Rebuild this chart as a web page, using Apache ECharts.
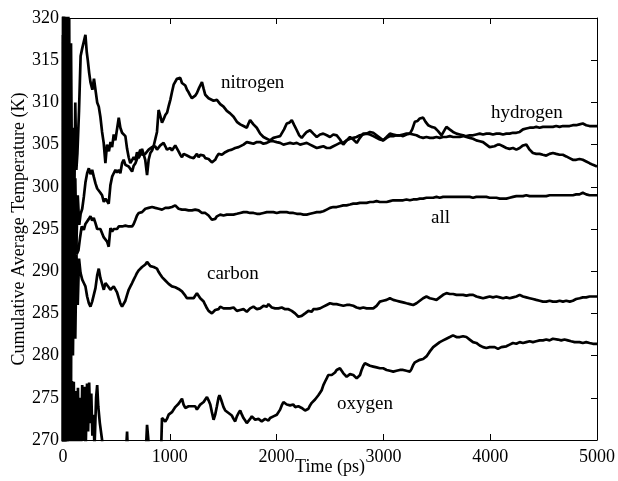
<!DOCTYPE html>
<html>
<head>
<meta charset="utf-8">
<script src="https://cdn.jsdelivr.net/npm/echarts@6/dist/echarts.min.js"></script>
<style>
html, body { margin: 0; padding: 0; background: #fff; }
#main { width: 618px; height: 481px; }
</style>
</head>
<body>
<div id="main"></div>
<script>
// [time (ps), cumulative average temperature (K)]
var nitrogen = [[0,335],[2,262],[4,333],[6,262],[8,331],[11,264],[13,330],[16,266],[18,328],[21,268],[24,326],[27,272],[30,326],[33,276],[36,324],[40,280],[43,323],[47,286],[50,321],[54,290],[58,320],[66,294],[75,317],[85,299],[95,307],[105,297],[115,310],[125,302],[135,304],[150,309],[165,315.5],[180,316.4],[195,317.2],[210,318],[222,316],[232,315],[245,313.5],[257,312.4],[275,311.5],[290,312.8],[304,312.7],[320,310],[335,309.5],[350,308.3],[366,306.5],[381,305.2],[397,302.8],[412,305],[430,304.2],[445,305.3],[460,304.7],[475,306.2],[490,305.5],[508,307],[522,308.2],[537,307],[553,306.4],[570,306.2],[584,306],[600,304.5],[615,303.5],[630,302.8],[647,302.6],[662,303.5],[678,303.2],[693,304.1],[708,303.4],[724,303.8],[740,304.5],[755,304.7],[770,303.2],[787,301.4],[802,303.2],[818,304],[834,304.3],[850,304.9],[864,304.7],[880,306.5],[895,309.1],[911,308.4],[927,307.6],[942,308],[958,308.5],[975,308.8],[990,309.6],[1005,310.3],[1020,311.2],[1036,312.1],[1051,312.3],[1067,312.8],[1082,312.7],[1098,312.9],[1114,312.3],[1129,312.4],[1145,312],[1161,311.5],[1176,311.2],[1192,310.8],[1207,310.5],[1223,310.3],[1238,310.8],[1254,311.1],[1270,311.6],[1285,312],[1301,312.4],[1317,311.6],[1332,310.9],[1348,310.8],[1363,310.5],[1379,310.6],[1410,310.2],[1441,310.3],[1472,309.8],[1503,309.5],[1534,309],[1565,308.7],[1597,308.3],[1628,307.7],[1659,307.4],[1690,307.2],[1721,307],[1737,307.5],[1752,307.9],[1783,307.4],[1814,307],[1846,306.3],[1877,305.9],[1908,305.7],[1939,305.5],[1970,305.8],[2000,305.9],[2033,306],[2048,306.1],[2070,306.8],[2095,307.5],[2120,307.6],[2142,307.9],[2165,307.3],[2189,306.7],[2212,306.1],[2235,305.8],[2260,306.2],[2282,306.5],[2313,306.7],[2344,306.3],[2376,305.9],[2407,306.2],[2437,306.3],[2470,306.1],[2500,305.9],[2531,306.2],[2563,306.1],[2594,305.6],[2624,305],[2656,305.5],[2687,305.9],[2718,305.6],[2750,305.2],[2780,305.8],[2811,306.3],[2843,306.3],[2874,306.5],[2905,306.4],[2936,306.1],[2967,305.8],[2998,305.5],[3030,305.9],[3061,306.3],[3092,306.2],[3123,306.1],[3154,306.1],[3185,306],[3216,306.2],[3248,306.3],[3270,306.8],[3294,307.7],[3320,307.8],[3341,308.1],[3372,308.2],[3395,307.7],[3419,307.3],[3450,307.1],[3481,307],[3512,306.6],[3544,306.1],[3567,306.6],[3590,307.1],[3620,306.8],[3652,306.5],[3684,306.3],[3715,306.2],[3746,306.1],[3777,305.9],[3808,305.8],[3839,305.7],[3870,305.5],[3902,305.4],[3933,305.3],[3964,305],[3995,304.7],[4011,304.7],[4040,304.8],[4070,305],[4089,305],[4120,304.8],[4151,304.6],[4182,304.5],[4213,304.6],[4245,304.4],[4276,304.6],[4307,304.9],[4338,305],[4369,304.4],[4400,304],[4431,303.9],[4463,303.9],[4493,303.8],[4525,303.7],[4556,303.9],[4587,304],[4618,303.9],[4650,303.8],[4680,303.8],[4712,303.6],[4743,303.4],[4773,303.2],[4805,303.2],[4836,303.3],[4867,303.2],[4899,303],[4930,302.8],[4962,302.6],[5000,302.4]];

var hydrogen = [[0,248],[3,325],[7,255],[11,323],[16,262],[21,320],[27,268],[33,318],[40,275],[47,314],[55,280],[63,310],[72,284],[80,306],[88,289],[97,303],[105,292],[115,301],[125,293],[138,299],[152,295.5],[165,296.8],[180,297.4],[195,298.8],[210,300.5],[226,301.6],[242,302.2],[257,301.5],[273,302],[288,301.2],[304,300.4],[320,299.8],[335,299.6],[350,299.3],[366,299],[382,298.2],[398,298.6],[413,298.4],[428,298],[444,300.2],[460,301.2],[475,301.6],[491,302],[506,301.7],[522,302],[537,301.6],[553,302.8],[568,303.2],[584,302.6],[600,302.4],[615,302.4],[631,302.1],[647,301.8],[662,302.5],[678,302.8],[693,303.3],[708,303.8],[724,304.4],[740,303.8],[755,303.6],[770,303.9],[787,304.1],[802,304.4],[818,304.5],[834,304.7],[850,304.5],[864,304.8],[880,304.4],[895,304.6],[911,304.9],[927,305.1],[942,305.2],[958,304.8],[973,304.4],[990,304.6],[1005,304.6],[1020,304.3],[1036,304.5],[1051,304.9],[1067,304.7],[1082,304.2],[1098,303.8],[1114,303.5],[1130,303.9],[1145,304],[1161,303.7],[1176,303.8],[1192,303.5],[1207,303.7],[1223,303.4],[1238,303.6],[1254,303.9],[1270,303.5],[1286,303.8],[1301,303.6],[1317,303.7],[1332,303.4],[1348,303.5],[1363,303.3],[1379,303.1],[1394,302.9],[1410,302.8],[1425,303.2],[1441,303.6],[1456,303.9],[1472,304],[1488,303.8],[1503,303.9],[1519,304.1],[1535,304],[1550,304.3],[1566,304.1],[1581,304.4],[1597,304.4],[1612,304.6],[1628,304.5],[1644,304.7],[1659,304.6],[1690,305],[1721,305.3],[1752,305.2],[1783,305.1],[1815,305.3],[1846,305.3],[1877,305.1],[1908,305.2],[1939,305.4],[1970,305.4],[2001,305.3],[2033,305.2],[2064,305],[2095,305.1],[2126,305.2],[2157,305.1],[2189,305.2],[2220,305],[2251,305.1],[2282,305.2],[2313,305],[2344,304.8],[2376,304.6],[2407,304.7],[2438,304.8],[2469,304.6],[2500,304.6],[2531,304.8],[2562,305],[2593,305.2],[2624,305.2],[2656,305.5],[2687,305.7],[2718,305.8],[2749,305.9],[2780,306.1],[2811,306.2],[2843,306.3],[2874,306.2],[2905,306],[2936,305.8],[2967,305.6],[2998,305.5],[3030,305.8],[3061,306],[3092,306],[3123,306.1],[3154,306.1],[3185,306.2],[3216,306.3],[3248,306.3],[3279,306.2],[3310,306.1],[3341,305.9],[3372,305.8],[3403,305.9],[3435,305.8],[3466,305.8],[3497,305.9],[3528,305.8],[3559,305.9],[3590,305.9],[3622,306],[3653,305.9],[3684,305.9],[3715,305.9],[3746,306],[3777,306],[3808,306.1],[3839,306.1],[3870,306.2],[3902,306.3],[3933,306.2],[3964,306.3],[3995,306.3],[4026,306.2],[4058,306.3],[4089,306.3],[4120,306.2],[4151,306.3],[4182,306.3],[4213,306.4],[4245,306.4],[4276,306.5],[4307,306.8],[4338,306.9],[4369,307],[4400,307],[4431,307.1],[4463,307],[4494,307.1],[4525,307.1],[4556,307.1],[4587,307.1],[4618,307.2],[4650,307.1],[4681,307.2],[4712,307.2],[4743,307.2],[4774,307.3],[4805,307.3],[4836,307.4],[4867,307.5],[4899,307.3],[4930,307.2],[4962,307.2],[5000,307.2]];

var all = [[0,318],[2,265],[4,317],[7,266],[9,316],[12,268],[14,315],[17,270],[20,312],[23,272],[26,311],[29,274],[32,309],[36,276],[39,307],[43,278],[46,305],[50,280],[54,303],[58,282],[62,302],[70,285],[78,300],[87,288],[96,298],[105,290],[115,297],[128,292],[145,292.5],[160,294],[175,295.3],[195,294.9],[210,295.6],[226,295.8],[242,296.2],[257,296.5],[273,296],[288,296.3],[304,295.7],[320,295],[335,295.2],[350,295],[366,294.5],[382,294],[398,293.8],[413,293.5],[428,292.9],[444,295.1],[460,294.7],[475,295],[491,295.1],[506,295],[522,295.3],[537,295.1],[553,295.3],[568,295.2],[584,295.4],[600,295.2],[615,295.3],[631,295.4],[647,295.3],[662,295.6],[678,296.1],[693,296.6],[709,296.9],[724,297],[740,297],[755,297.2],[771,297.4],[787,297.3],[802,297.5],[818,297.4],[834,297.6],[849,297.4],[864,297.5],[880,297.3],[896,297.4],[911,297.2],[927,297.3],[942,297.5],[958,297.5],[973,297.6],[989,297.5],[1005,297.7],[1020,297.6],[1036,297.8],[1051,297.8],[1067,297.6],[1082,297.4],[1098,297.5],[1114,297.3],[1129,297.5],[1145,297.3],[1161,297.4],[1176,297.2],[1192,297.3],[1207,297.2],[1223,297.4],[1238,297.3],[1254,297.1],[1270,297.2],[1285,297],[1301,296.9],[1317,297],[1332,296.9],[1348,296.7],[1363,296.6],[1379,296.4],[1394,296.1],[1410,295.9],[1425,296.2],[1441,296.5],[1456,296.6],[1472,296.7],[1503,296.6],[1534,296.7],[1565,296.7],[1596,296.7],[1628,296.8],[1659,296.9],[1690,297],[1721,297],[1752,296.9],[1784,296.9],[1815,296.8],[1846,296.8],[1877,296.9],[1908,297],[1939,297],[1970,297],[2001,296.9],[2033,297],[2064,297],[2095,297],[2126,296.9],[2157,296.9],[2189,296.8],[2220,296.8],[2251,296.7],[2282,296.7],[2313,296.8],[2344,296.9],[2376,297],[2407,297],[2438,297.1],[2469,297.3],[2500,297.5],[2531,297.6],[2562,297.6],[2593,297.7],[2624,297.8],[2655,297.8],[2687,297.9],[2718,298],[2749,298],[2780,298.1],[2811,298.1],[2843,298.1],[2874,298.2],[2905,298.2],[2936,298.3],[2967,298.2],[2998,298.2],[3030,298.2],[3061,298.3],[3092,298.4],[3123,298.4],[3154,298.4],[3185,298.4],[3216,298.5],[3248,298.4],[3279,298.5],[3310,298.5],[3341,298.6],[3372,298.6],[3403,298.7],[3435,298.7],[3466,298.7],[3497,298.8],[3528,298.7],[3559,298.8],[3590,298.8],[3622,298.8],[3653,298.8],[3684,298.8],[3715,298.8],[3746,298.8],[3777,298.8],[3808,298.8],[3839,298.7],[3870,298.8],[3902,298.8],[3933,298.8],[3964,298.8],[3995,298.7],[4026,298.7],[4058,298.7],[4089,298.6],[4120,298.6],[4151,298.6],[4182,298.7],[4213,298.8],[4245,298.9],[4276,298.9],[4307,298.9],[4338,299],[4369,298.9],[4400,298.9],[4431,298.9],[4463,298.9],[4494,298.9],[4525,298.9],[4556,299],[4587,299],[4618,299],[4650,299],[4681,299],[4712,299],[4743,299],[4774,299],[4805,299.1],[4836,299.1],[4867,299.3],[4899,299.1],[4930,299],[4962,299],[5000,299]];

var carbon = [[0,252],[3,318],[7,256],[12,314],[17,260],[23,310],[29,264],[35,306],[42,268],[49,302],[57,272],[65,298],[74,276],[83,295],[93,280],[104,293],[115,282],[126,292],[138,286],[150,291.5],[164,289.8],[180,289],[195,288.6],[210,288.2],[226,287],[242,286.2],[257,285.8],[273,286.4],[288,286.5],[304,288],[320,289.5],[335,290.3],[350,289.2],[366,288.5],[382,287.8],[398,288.6],[413,288.7],[428,288.1],[444,287.8],[460,288],[475,288.2],[491,288.4],[506,287.5],[522,286.8],[537,286.2],[553,285.8],[568,285.6],[584,286.5],[600,287.2],[615,287.8],[631,288.2],[647,288.6],[662,289],[678,289.4],[693,289.8],[709,290.1],[724,290.3],[740,290.5],[755,290.7],[771,290.8],[787,291.1],[802,290.9],[818,290.6],[834,290.8],[849,290.5],[864,290.4],[880,290.3],[896,289.9],[911,289.6],[927,289.3],[942,289.2],[958,288.9],[973,288.7],[989,288.5],[1005,288.4],[1020,288.2],[1036,288],[1051,288.1],[1067,287.9],[1082,287.9],[1098,287.8],[1114,287.6],[1129,287.4],[1145,287.1],[1161,286.8],[1176,286.6],[1192,286.8],[1207,286.9],[1223,286.8],[1238,287.1],[1254,287.4],[1270,287.2],[1285,286.8],[1301,286.6],[1317,286.4],[1332,286],[1348,285.6],[1363,285.3],[1379,285.1],[1394,285],[1410,285.2],[1425,285.4],[1441,285.6],[1456,285.5],[1472,285.8],[1488,285.7],[1503,285.6],[1519,285.8],[1534,285.6],[1550,285.7],[1565,285.6],[1581,285.5],[1597,285.7],[1612,285.5],[1628,285.3],[1644,285.4],[1659,285.4],[1675,285.6],[1690,285.5],[1706,285.3],[1721,285.2],[1737,285.4],[1752,285.6],[1768,285.7],[1783,285.8],[1799,285.6],[1815,285.5],[1830,285.7],[1846,285.6],[1861,285.8],[1877,285.9],[1892,286],[1908,285.8],[1924,286.1],[1939,286],[1955,285.7],[1970,285.5],[1986,285.6],[2002,285.4],[2017,285.6],[2033,285.6],[2048,285.7],[2064,285.6],[2080,285.5],[2095,285.6],[2111,285.5],[2126,285.3],[2142,285.3],[2157,285.2],[2173,285],[2189,284.8],[2204,284.6],[2220,284.4],[2235,284.7],[2251,284.9],[2267,285],[2282,285.1],[2298,285.3],[2313,285.4],[2329,285.2],[2344,285.5],[2360,285.6],[2376,285.5],[2391,285.6],[2407,285.6],[2438,285.8],[2469,286],[2500,286.2],[2531,286.1],[2562,286.1],[2594,286],[2625,285.9],[2656,286],[2687,286],[2718,285.9],[2749,285.7],[2781,285.6],[2812,285.7],[2843,285.6],[2874,285.6],[2905,285.6],[2936,285.9],[2967,286.4],[2998,286.5],[3030,286.6],[3061,286.8],[3092,286.6],[3123,286.5],[3154,286.4],[3185,286.3],[3216,286.2],[3248,286.1],[3279,286],[3310,286.2],[3341,286.5],[3372,286.8],[3403,287],[3435,286.8],[3466,286.7],[3497,286.6],[3528,286.9],[3559,287.2],[3591,287.4],[3622,287.3],[3653,287.3],[3684,287.2],[3715,287.2],[3746,287.2],[3777,287.1],[3808,287.2],[3840,287.2],[3871,287],[3902,286.9],[3933,286.8],[3964,286.9],[3995,287],[4026,286.9],[4058,287],[4089,286.9],[4120,286.8],[4151,286.9],[4182,286.8],[4213,286.9],[4245,287],[4276,287.2],[4307,287],[4338,286.9],[4369,286.8],[4400,286.7],[4431,286.6],[4463,286.5],[4494,286.4],[4525,286.4],[4556,286.5],[4587,286.4],[4620,286.4],[4650,286.5],[4681,286.4],[4712,286.5],[4745,286.4],[4774,286.5],[4805,286.7],[4838,286.8],[4867,286.9],[4899,286.9],[4930,287],[4962,287],[5000,287]];

var oxygen = [[0,262],[3,322],[6,256],[10,320],[14,258],[19,318],[24,260],[30,312],[36,262],[42,305],[49,263],[56,296],[63,264],[70,288],[77,265],[84,277],[92,268],[101,276.9],[110,266],[120,275.8],[130,268],[140,276.2],[150,267],[160,275],[170,269],[180,276.5],[190,270],[200,276.3],[212,268.5],[225,276.7],[235,271],[245,276.8],[255,272],[265,275.5],[275,270.5],[285,273],[295,269],[310,275],[320,276.5],[330,274],[345,272],[366,270],[380,265],[420,262],[480,264],[540,266],[585,267.5],[600,271],[612,267],[680,265],[740,266.5],[775,268.5],[787,271.8],[798,270.2],[810,267.5],[860,265.5],[905,267],[918,268.5],[927,272.6],[942,272.8],[958,272.2],[973,272.5],[989,273],[1005,273],[1020,273.3],[1036,273.6],[1051,273.9],[1067,273.9],[1082,274.3],[1098,274.6],[1114,274.9],[1129,274.2],[1145,273.8],[1161,273.6],[1176,274],[1192,274.2],[1207,274],[1223,273.8],[1238,274],[1254,273.6],[1270,273.9],[1285,274.2],[1301,274.1],[1317,274.5],[1332,274.8],[1348,275.1],[1363,274.7],[1379,274.2],[1394,273.3],[1410,272.4],[1425,273],[1441,274],[1456,275],[1465,275.3],[1480,274.8],[1503,273.9],[1519,273.5],[1534,273.6],[1550,273.2],[1565,273.3],[1581,272.9],[1597,272.5],[1612,272.2],[1628,272.8],[1644,273.2],[1659,273.5],[1675,273],[1690,272.6],[1706,272.3],[1721,272],[1737,272.2],[1752,272.5],[1768,272.8],[1784,272.6],[1799,272.4],[1815,272.3],[1830,272.5],[1846,272.4],[1861,272.2],[1877,272.3],[1892,272.5],[1908,272.4],[1924,272.3],[1939,272.6],[1955,272.8],[1970,272.8],[1986,272.7],[2002,273],[2017,273.2],[2033,273.6],[2048,274.1],[2064,274.5],[2080,274.3],[2095,274.2],[2111,274.1],[2126,274.1],[2142,274],[2157,274.2],[2173,273.9],[2189,273.9],[2204,274],[2220,274],[2235,273.8],[2251,273.7],[2267,273.5],[2282,273.4],[2298,273.7],[2313,274.1],[2329,274.4],[2344,274.6],[2360,274.8],[2376,275],[2391,275.3],[2407,275.5],[2422,275.9],[2438,276.5],[2453,276.9],[2469,277.3],[2484,277.7],[2500,277.8],[2516,277.7],[2531,277.9],[2547,278],[2562,278.3],[2578,278.4],[2593,278.5],[2609,278.2],[2625,277.9],[2640,277.7],[2656,277.5],[2671,277.6],[2687,277.8],[2703,277.7],[2718,277.7],[2734,277.5],[2750,277.3],[2765,277.3],[2781,277.7],[2796,278.3],[2812,278.8],[2827,279.1],[2843,279],[2874,278.8],[2905,278.7],[2936,278.6],[2967,278.5],[2998,278.5],[3030,278.3],[3061,278.2],[3092,278.1],[3123,278.2],[3154,278.3],[3185,278.3],[3216,278.2],[3248,278.1],[3263,278.4],[3279,278.9],[3295,279.2],[3310,279.3],[3341,279.5],[3372,279.6],[3388,279.7],[3403,279.9],[3419,280.2],[3435,280.5],[3450,280.7],[3466,281],[3481,281.2],[3497,281.3],[3512,281.5],[3528,281.6],[3544,281.7],[3559,281.8],[3575,281.9],[3590,282],[3606,282.1],[3622,282.2],[3637,282.3],[3652,282.4],[3668,282.3],[3684,282.2],[3700,282.3],[3715,282.2],[3731,282.4],[3746,282.3],[3762,282.2],[3777,282.2],[3793,282],[3808,281.9],[3824,281.7],[3839,281.6],[3855,281.8],[3870,281.5],[3886,281.3],[3902,281.2],[3917,281.1],[3933,281],[3964,280.9],[3995,281],[4011,280.9],[4042,281],[4073,280.8],[4104,281],[4120,280.9],[4151,281.1],[4182,281.3],[4213,281.5],[4245,281.4],[4276,281.6],[4307,281.5],[4338,281.6],[4369,281.7],[4400,281.6],[4431,281.7],[4463,281.8],[4494,281.8],[4525,281.9],[4556,281.8],[4587,282],[4603,282],[4634,281.9],[4665,281.8],[4696,281.9],[4727,281.8],[4758,281.7],[4790,281.6],[4805,281.5],[4836,281.6],[4867,281.5],[4899,281.6],[4930,281.5],[4962,281.4],[5000,281.4]];

var seriesNames = ["nitrogen", "hydrogen", "all", "carbon", "oxygen"];
var seriesData = [nitrogen, hydrogen, all, carbon, oxygen];

var serif = "'Liberation Serif', 'Times New Roman', serif";
var myChart = echarts.init(document.getElementById("main"));

var axisCommon = {
  axisLine: { show: true, onZero: false, lineStyle: { color: "#000", width: 1 } },
  axisTick: { show: true, inside: true, length: 6, lineStyle: { color: "#000" } },
  splitLine: { show: false }
};

// label placement in pixels (text annotations)
var labelPos = [[221, 83], [491, 113], [431, 218], [207, 274], [337, 404]];

var option = {
  backgroundColor: "#fff",
  animation: false,
  grid: { left: 63, right: 21, top: 18, bottom: 41, outerBoundsMode: "none" },
  xAxis: [
    Object.assign({}, axisCommon, {
      type: "value", min: 0, max: 5000, interval: 1000, position: "bottom",
      axisLabel: {
        color: "#000", fontSize: 18, fontFamily: serif, margin: 8,
        formatter: function (v) { return String(v); }
      },
      name: "Time (ps)", nameLocation: "middle", nameGap: 18, nameMoveOverlap: false,
      nameTextStyle: { color: "#000", fontSize: 18, fontFamily: serif }
    }),
    Object.assign({}, axisCommon, {
      type: "value", min: 0, max: 5000, interval: 1000, position: "top",
      axisLabel: { show: false }
    })
  ],
  yAxis: [
    Object.assign({}, axisCommon, {
      type: "value", min: 270, max: 320, interval: 5, position: "left",
      axisLabel: {
        color: "#000", fontSize: 18, fontFamily: serif, margin: 4,
        formatter: function (v) { return String(v); }
      },
      name: "Cumulative Average Temperature (K)", nameLocation: "middle", nameGap: 35, nameMoveOverlap: false,
      nameTextStyle: { color: "#000", fontSize: 18, fontFamily: serif }
    }),
    Object.assign({}, axisCommon, {
      type: "value", min: 270, max: 320, interval: 5, position: "right",
      axisLabel: { show: false }
    })
  ],
  graphic: seriesNames.map(function (name, i) {
    return {
      type: "text", x: labelPos[i][0], y: labelPos[i][1], z: 100,
      style: { text: name, fill: "#000", font: "19px " + serif, verticalAlign: "middle", align: "left" }
    };
  }),
  series: seriesNames.map(function (name, i) {
    return {
      name: name,
      type: "line",
      xAxisIndex: 0,
      yAxisIndex: 0,
      showSymbol: false,
      clip: true,
      lineStyle: { color: "#000", width: 2.7 },
      data: seriesData[i]
    };
  })
};

myChart.setOption(option);
</script>
</body>
</html>
